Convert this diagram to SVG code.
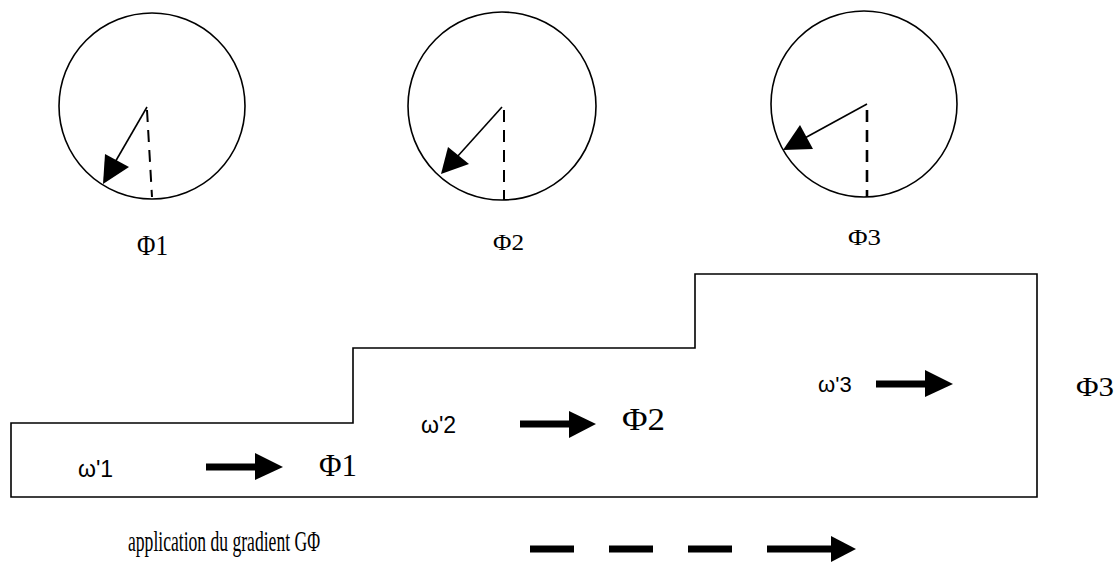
<svg xmlns="http://www.w3.org/2000/svg" width="1120" height="564" viewBox="0 0 1120 564">
<style>
.ln{fill:none;stroke:#000;stroke-width:1.6}
.dash{fill:none;stroke:#000;stroke-width:2;stroke-dasharray:12 8}
.hd{fill:#000;stroke:none}
.sh{stroke:#000;stroke-width:7;fill:none}
.ser{font-family:"Liberation Serif","Times New Roman",serif;fill:#000}
.san{font-family:"Liberation Sans",Arial,sans-serif;fill:#000}
</style>
<rect width="1120" height="564" fill="#fff"/>
<g id="phase1">
<circle class="ln" cx="152" cy="106" r="93"/>
<line class="ln" x1="147" y1="107" x2="114" y2="164"/>
<polygon class="hd" points="103,184 105,154 129,167"/>
<line class="dash" x1="147" y1="110" x2="152" y2="197"/>
<text class="ser" x="137" y="255" font-size="29" textLength="31" lengthAdjust="spacingAndGlyphs">Φ1</text>
</g>
<g id="phase2">
<circle class="ln" cx="502" cy="106" r="94"/>
<line class="ln" x1="502" y1="107" x2="457" y2="157"/>
<polygon class="hd" points="441,174 448,147 469,164"/>
<line class="dash" x1="504" y1="110" x2="504" y2="200"/>
<text class="ser" x="493" y="250" font-size="24" textLength="31" lengthAdjust="spacingAndGlyphs">Φ2</text>
</g>
<g id="phase3">
<circle class="ln" cx="864" cy="104" r="93"/>
<line class="ln" x1="867" y1="104" x2="803" y2="139"/>
<polygon class="hd" points="783,150 800,125 813,149"/>
<line class="dash" x1="867" y1="110" x2="867" y2="197" style="stroke-width:2.6"/>
<text class="ser" x="848" y="245" font-size="23" textLength="33" lengthAdjust="spacingAndGlyphs">Φ3</text>
</g>
<g id="stairs">
<polygon class="ln" points="11,423 353,423 353,348 695,348 695,274 1037,274 1037,497 11,497"/>
<text class="san" x="78" y="477" font-size="23">ω'1</text>
<text class="ser" x="319" y="476" font-size="31" textLength="38" lengthAdjust="spacingAndGlyphs">Φ1</text>
<text class="san" x="421" y="433" font-size="23">ω'2</text>
<text class="ser" x="622" y="430" font-size="31" textLength="43" lengthAdjust="spacingAndGlyphs">Φ2</text>
<text class="san" x="818" y="392" font-size="22">ω'3</text>
<text class="ser" x="1076" y="396" font-size="28" textLength="38" lengthAdjust="spacingAndGlyphs">Φ3</text>
</g>
<g id="connectors">
<line class="sh" x1="206" y1="467" x2="257" y2="467"/>
<polygon class="hd" points="255,453 283,467 255,480"/>
<line class="sh" x1="520" y1="424" x2="571" y2="424"/>
<polygon class="hd" points="569,411 596,424 569,438"/>
<line class="sh" x1="876" y1="384" x2="927" y2="384"/>
<polygon class="hd" points="925,370 953,384 925,397"/>
<line class="sh" x1="530" y1="549" x2="574" y2="549"/>
<line class="sh" x1="609" y1="549" x2="653" y2="549"/>
<line class="sh" x1="688" y1="549" x2="732" y2="549"/>
<line class="sh" x1="767" y1="549" x2="833" y2="549"/>
<polygon class="hd" points="831,536 856,549 831,562"/>
</g>
<text class="ser" x="128" y="551" font-size="30" textLength="192" lengthAdjust="spacingAndGlyphs">application du gradient GΦ</text>
</svg>
